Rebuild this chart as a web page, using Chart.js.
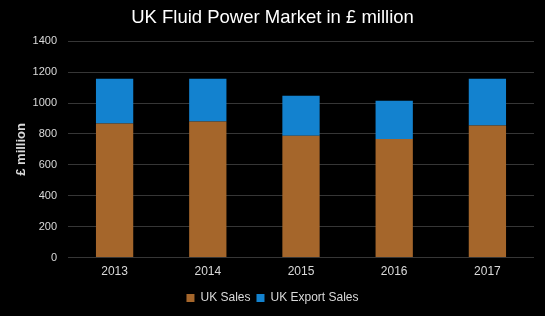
<!DOCTYPE html>
<html>
<head>
<meta charset="utf-8">
<script src="https://cdn.jsdelivr.net/npm/chart.js@4/dist/chart.umd.min.js"></script>
<style>
  html, body { margin: 0; padding: 0; background: #000; }
  #wrap { width: 545px; height: 316px; }
</style>
</head>
<body>
<div id="wrap"><canvas id="chart"></canvas></div>
<script>
const years = ['2013', '2014', '2015', '2016', '2017'];
const ukSales = [868, 881, 789, 768, 855];
const exportSales = [289, 276, 258, 247, 302];
const yTicks = [0, 200, 400, 600, 800, 1000, 1200, 1400];

const ctx = document.getElementById('chart');

Chart.defaults.font.family = 'Liberation Sans, Arial, sans-serif';
Chart.defaults.color = '#d9d9d9';

new Chart(ctx, {
  type: 'bar',
  data: {
    labels: years,
    datasets: [
      { label: 'UK Sales', data: ukSales, backgroundColor: '#A5662B', barPercentage: 0.8, categoryPercentage: 0.5 },
      { label: 'UK Export Sales', data: exportSales, backgroundColor: '#1382CF', barPercentage: 0.8, categoryPercentage: 0.5 }
    ]
  },
  options: {
    responsive: true,
    maintainAspectRatio: false,
    animation: false,
    layout: { padding: { left: 11, right: 11, top: 4, bottom: 2 } },
    plugins: {
      title: {
        display: true,
        text: 'UK Fluid Power Market in £ million',
        color: '#ffffff',
        font: { size: 18.5, weight: 'normal' },
        padding: { top: 3, bottom: 12 }
      },
      legend: {
        position: 'bottom',
        labels: { boxWidth: 8, boxHeight: 8, color: '#d9d9d9', font: { size: 12 }, padding: 6 }
      },
      tooltip: { enabled: false }
    },
    scales: {
      x: {
        stacked: true,
        grid: { display: false, drawTicks: false },
        border: { display: false },
        ticks: { color: '#d9d9d9', font: { size: 12 }, padding: 7 }
      },
      y: {
        stacked: true,
        min: 0,
        max: 1400,
        afterBuildTicks: axis => { axis.ticks = yTicks.map(v => ({ value: v })); },
        afterFit: axis => { axis.width = 57; },
        grid: { color: '#363636', lineWidth: 1, drawTicks: false },
        border: { display: false },
        ticks: { color: '#d9d9d9', font: { size: 11 }, padding: 11, callback: v => String(v) },
        title: { display: true, text: '£ million', color: '#d9d9d9', font: { size: 13, weight: 'bold' }, padding: 3 }
      }
    }
  }
});
</script>
</body>
</html>
